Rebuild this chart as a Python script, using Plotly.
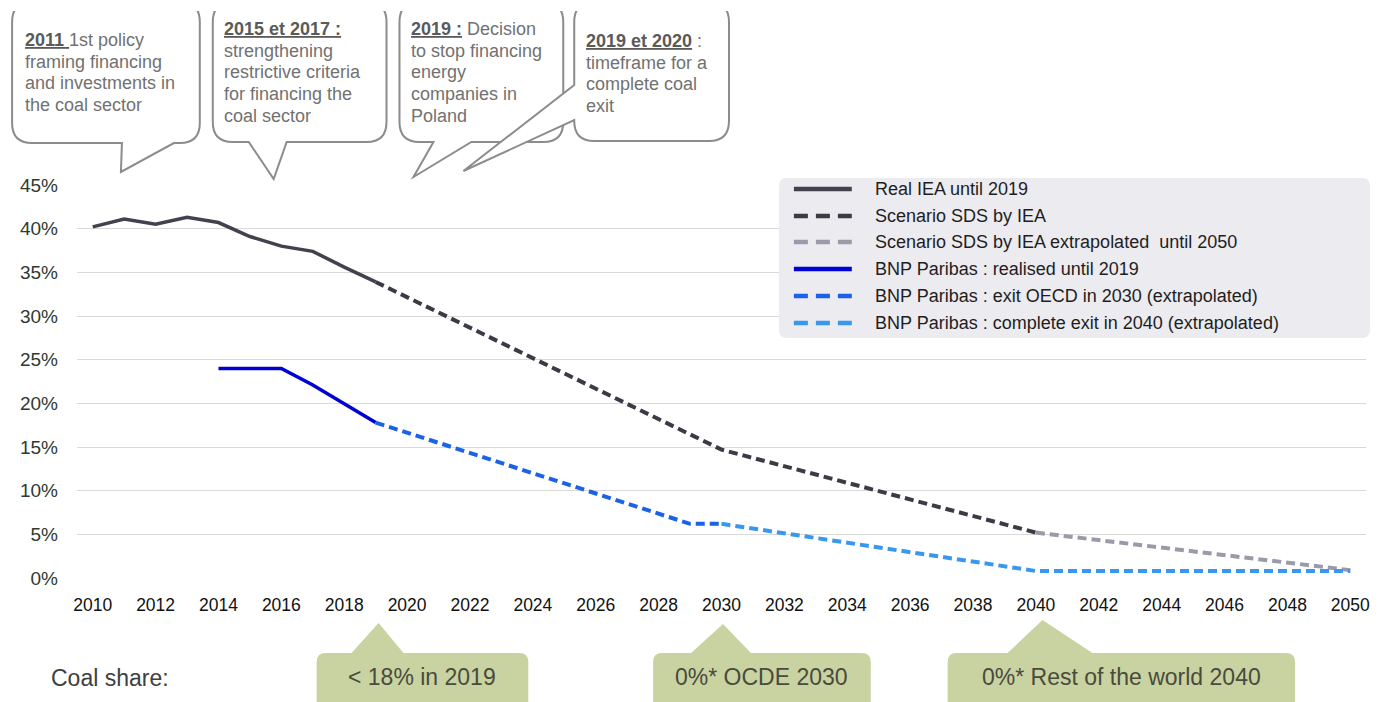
import plotly.graph_objects as go

# ---- data -------------------------------------------------------------
iea_years = [2010, 2011, 2012, 2013, 2014, 2015, 2016, 2017, 2018, 2019]
iea_real = [40.2, 41.1, 40.5, 41.3, 40.7, 39.1, 38.0, 37.4, 35.6, 33.9]

sds_years = [2019, 2030, 2040]
sds_vals = [33.9, 14.7, 5.2]

sds_ext_years = [2040, 2050]
sds_ext_vals = [5.2, 0.9]

bnp_years = [2014, 2015, 2016, 2017, 2018, 2019]
bnp_real = [24.0, 24.0, 24.0, 22.1, 20.0, 17.8]

oecd_years = [2019, 2029, 2030]
oecd_vals = [17.8, 6.2, 6.2]

exit_years = [2030, 2040, 2050]
exit_vals = [6.2, 0.8, 0.8]

legend_labels = [
    "Real IEA until 2019",
    "Scenario SDS by IEA",
    "Scenario SDS by IEA extrapolated  until 2050",
    "BNP Paribas : realised until 2019",
    "BNP Paribas : exit OECD in 2030 (extrapolated)",
    "BNP Paribas : complete exit in 2040 (extrapolated)",
]
colors = ["#42424e", "#3b3b46", "#9c9aa8", "#0000d2", "#1c62e6", "#3a97ee"]
dashes = ["solid", "dash", "dash", "solid", "dash", "dash"]

FONT = "Liberation Sans, Arial, sans-serif"

# ---- pixel helpers --------------------------------------------------------
# coordinates below are measured in the 1394x702 screenshot; the page body
# adds an 8px margin, so the figure itself is 8px smaller and shifted
OFF = 8
W, H = 1394 - OFF, 702 - OFF
L, T = 75 - OFF, 185 - OFF
R = W - (1366 - OFF)
B = H - (578 - OFF)
PW, PH = W - L - R, H - T - B


def px(x):
    return (x - OFF - L) / PW


def py(y):
    return (H - B - (y - OFF)) / PH


def path(cmds):
    out = []
    for c in cmds:
        if c[0] == "Z":
            out.append("Z")
            continue
        pts = " ".join(f"{px(x):.5f},{py(y):.5f}" for x, y in c[1:])
        out.append(f"{c[0]} {pts}")
    return " ".join(out)


def bubble_bottom(x0, x1, y0, y1, r, a, tip, b):
    return path([
        ("M", (x0 + r, y0)), ("L", (x1 - r, y0)), ("Q", (x1, y0), (x1, y0 + r)),
        ("L", (x1, y1 - r)), ("Q", (x1, y1), (x1 - r, y1)),
        ("L", (b, y1)), ("L", tip), ("L", (a, y1)),
        ("L", (x0 + r, y1)), ("Q", (x0, y1), (x0, y1 - r)),
        ("L", (x0, y0 + r)), ("Q", (x0, y0), (x0 + r, y0)), ("Z",),
    ])


def bubble_left(x0, x1, y0, y1, r, lo, tip, hi):
    return path([
        ("M", (x0 + r, y0)), ("L", (x1 - r, y0)), ("Q", (x1, y0), (x1, y0 + r)),
        ("L", (x1, y1 - r)), ("Q", (x1, y1), (x1 - r, y1)),
        ("L", (x0 + r, y1)), ("Q", (x0, y1), (x0, y1 - r)),
        ("L", (x0, lo)), ("L", tip), ("L", (x0, hi)),
        ("L", (x0, y0 + r)), ("Q", (x0, y0), (x0 + r, y0)), ("Z",),
    ])


def box_top(x0, x1, y0, y1, r, a, tip, b):
    return path([
        ("M", (x0 + r, y0)), ("L", (a, y0)), ("L", tip), ("L", (b, y0)),
        ("L", (x1 - r, y0)), ("Q", (x1, y0), (x1, y0 + r)),
        ("L", (x1, y1)), ("L", (x0, y1)),
        ("L", (x0, y0 + r)), ("Q", (x0, y0), (x0 + r, y0)), ("Z",),
    ])


def rounded_rect(x0, x1, y0, y1, r):
    return path([
        ("M", (x0 + r, y0)), ("L", (x1 - r, y0)), ("Q", (x1, y0), (x1, y0 + r)),
        ("L", (x1, y1 - r)), ("Q", (x1, y1), (x1 - r, y1)),
        ("L", (x0 + r, y1)), ("Q", (x0, y1), (x0, y1 - r)),
        ("L", (x0, y0 + r)), ("Q", (x0, y0), (x0 + r, y0)), ("Z",),
    ])


# ---- traces -------------------------------------------------------------
fig = go.Figure()
series = [
    (iea_years, iea_real),
    (sds_years, sds_vals),
    (sds_ext_years, sds_ext_vals),
    (bnp_years, bnp_real),
    (oecd_years, oecd_vals),
    (exit_years, exit_vals),
]
for (xs, ys), name, col, d in zip(series, legend_labels, colors, dashes):
    fig.add_trace(go.Scatter(
        x=xs, y=ys, name=name, mode="lines",
        line=dict(color=col, width=4 if d == "dash" else 3.5,
                  dash="9px,5px" if d == "dash" else "solid"),
        showlegend=False, cliponaxis=False,
    ))

# ---- shapes --------------------------------------------------------------
BUB = dict(type="path", xref="paper", yref="paper", fillcolor="white",
           line=dict(color="#8c8c8c", width=2), layer="above")
GREEN = dict(type="path", xref="paper", yref="paper", fillcolor="#c8d3a1",
             line=dict(width=0), layer="above")

shapes = [
    dict(BUB, path=bubble_bottom(10, 198, 2, 143, 20, 120, (119, 172), 172)),
    dict(BUB, path=bubble_bottom(211, 385, 2, 142, 20, 247, (272, 179), 285)),
    dict(BUB, path=bubble_bottom(398, 562, 2, 142, 20, 432, (412, 177), 470)),
    dict(BUB, path=bubble_left(573, 728, 2, 141, 20, 120, (462, 171), 85)),
    # crop the tops of the bubbles like the original
    dict(type="rect", xref="paper", yref="paper", x0=px(0), x1=px(760),
         y0=py(11), y1=py(-20), fillcolor="white", line=dict(width=0), layer="above"),
    # legend panel
    dict(type="path", xref="paper", yref="paper", path=rounded_rect(778, 1370, 178, 338, 8),
         fillcolor="#ebebf0", line=dict(width=0), layer="above"),
    # green boxes
    dict(GREEN, path=box_top(315, 527, 653, 720, 9, 350, (377, 623), 402)),
    dict(GREEN, path=box_top(652, 870, 653, 720, 9, 690, (722, 624), 750)),
    dict(GREEN, path=box_top(947, 1295, 653, 720, 9, 1007, (1042, 620), 1092)),
]

# legend samples
row_y = [189, 216, 242, 269, 296, 323]
for yy, col, d in zip(row_y, colors, dashes):
    shapes.append(dict(type="line", xref="paper", yref="paper",
                       x0=px(793), x1=px(851), y0=py(yy), y1=py(yy),
                       line=dict(color=col, width=4.5,
                                 dash="14px,8px" if d == "dash" else "solid"),
                       layer="above"))

# ---- annotations ---------------------------------------------------------
ann = []
HEAD = "<b><span style='color:#5a5a5a;text-decoration:underline'>{}</span></b>"


def bubble_text(x, y0, lines):
    for i, line in enumerate(lines):
        ann.append(dict(
            xref="paper", yref="paper", x=px(x), y=py(y0 + i * 21.7),
            xanchor="left", yanchor="middle", align="left", showarrow=False,
            borderpad=0, text=line,
            font=dict(family=FONT, size=18, color="#717171"),
        ))


bubble_text(22, 40, [HEAD.format("2011 ") + "1st policy", "framing financing",
                     "and investments in", "the coal sector"])
bubble_text(221, 29, [HEAD.format("2015 et 2017 :"), "strengthening",
                      "restrictive criteria", "for financing the", "coal sector"])
bubble_text(409, 29, [HEAD.format("2019 :") + " Decision", "to stop financing",
                      "energy", "companies in", "Poland"])
bubble_text(584, 41, [HEAD.format("2019 et 2020") + " :", "timeframe for a",
                      "complete coal", "exit"])

for yy, lab in zip(row_y, legend_labels):
    ann.append(dict(xref="paper", yref="paper", x=px(872), y=py(yy), xanchor="left",
                    yanchor="middle", showarrow=False, text=lab,
                    font=dict(family=FONT, size=18, color="#1e1e1e")))

ann.append(dict(xref="paper", yref="paper", x=px(47), y=py(678), xanchor="left",
                yanchor="middle", showarrow=False, text="Coal share:",
                font=dict(family=FONT, size=23, color="#404040")))
for cx, txt in [(421, "&lt; 18% in 2019"), (761, "0%* OCDE 2030"), (1121, "0%* Rest of the world 2040")]:
    ann.append(dict(xref="paper", yref="paper", x=px(cx), y=py(677), xanchor="center",
                    yanchor="middle", showarrow=False, text=txt,
                    font=dict(family=FONT, size=23, color="#4a4a3e")))

fig.update_layout(
    width=W, height=H,
    margin=dict(l=L, r=R, t=T, b=B),
    paper_bgcolor="white", plot_bgcolor="white",
    showlegend=False,
    font=dict(family=FONT),
    shapes=shapes,
    annotations=ann,
    xaxis=dict(range=[2009.5, 2050.5], tick0=2010, dtick=2, showgrid=False,
               zeroline=False, showline=False, ticks="", ticklabelstandoff=14,
               tickfont=dict(family=FONT, size=17.5, color="#111111")),
    yaxis=dict(range=[0, 45], dtick=5, ticksuffix="%", showgrid=True,
               gridcolor="#d9d9d9", gridwidth=1, zeroline=False, showline=False,
               ticks="", ticklabelstandoff=18,
               tickfont=dict(family=FONT, size=19, color="#2f3a2f")),
)

fig.write_html("out.html")
